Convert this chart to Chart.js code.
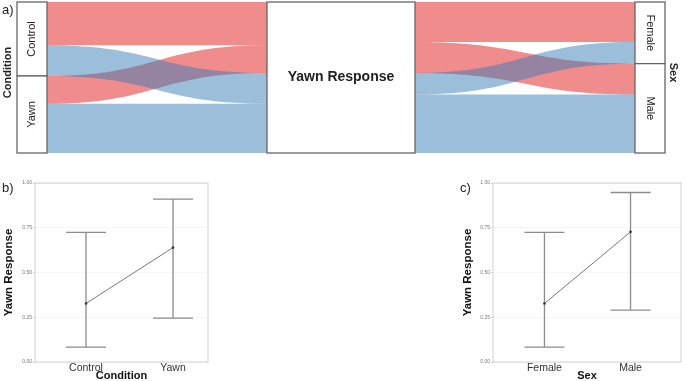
<!DOCTYPE html>
<html><head><meta charset="utf-8">
<script src="https://cdn.jsdelivr.net/npm/chart.js@4.4.0/dist/chart.umd.min.js"></script>
<style>
html,body{margin:0;padding:0;width:685px;height:381px;overflow:hidden;background:#fff;font-family:"Liberation Sans",Arial,sans-serif;}
.pane{position:absolute;}
.tag{position:absolute;font-size:13px;line-height:13px;color:#222;}
</style></head><body>
<div class="pane" style="left:0;top:0;width:685px;height:165px"><canvas id="top"></canvas></div>
<div class="pane" style="left:0;top:170px;width:215px;height:214px"><canvas id="cb"></canvas></div>
<div class="pane" style="left:455px;top:170px;width:230px;height:214px"><canvas id="cc"></canvas></div>
<div class="tag" style="left:2px;top:3px">a)</div>
<div class="tag" style="left:2px;top:181px">b)</div>
<div class="tag" style="left:460px;top:181px">c)</div>
<script>
// ---------- data ----------
const conditionCats = ['Control', 'Yawn'];
const responseCats = ['No', 'Yes'];        // red, blue
const sexCats = ['Female', 'Male'];
// counts: Condition x Yawn Response
const condNo  = [14, 9];
const condYes = [10, 16];
// counts: Yawn Response x Sex
const sexNo  = [13, 10];
const sexYes = [7, 19];
// estimated yawn response with intervals
const condMean  = [0.327, 0.639];
const condLower = [0.083, 0.245];
const condUpper = [0.724, 0.910];
const sexMean  = [0.327, 0.727];
const sexLower = [0.083, 0.290];
const sexUpper = [0.724, 0.947];
const yTicks = [0, 0.25, 0.5, 0.75, 1];

const FONT = '"Liberation Sans", Arial, sans-serif';
const RED = 'rgba(228,26,28,0.5)';
const BLUE = 'rgba(55,126,184,0.5)';
const sum = a => a.reduce((s, v) => s + v, 0);
const total = sum(condNo) + sum(condYes);

// ---------- alluvial ----------
const stages = [{x0: 17, x1: 47}, {x0: 267, x1: 415}, {x0: 635, x1: 665}];
const alluvialPlugin = {
  id: 'alluvial',
  afterDatasetsDraw(chart) {
    const ctx = chart.ctx, xs = chart.scales.x, ys = chart.scales.y;
    const X = v => xs.getPixelForValue(v), Y = v => ys.getPixelForValue(v);
    const resp = [condNo, condYes];
    const respS = [sexNo, sexYes];
    const condTot = conditionCats.map((_, i) => condNo[i] + condYes[i]);
    const respTot = [sum(condNo), sum(condYes)];
    const sexTot = sexCats.map((_, k) => sexNo[k] + sexYes[k]);
    const cum = (arr, n) => sum(arr.slice(0, n));
    function flow(xa, xb, a0, a1, b0, b1, color) {
      const pa0 = Y(a0), pa1 = Y(a1), pb0 = Y(b0), pb1 = Y(b1);
      const xm = (xa + xb) / 2;
      ctx.beginPath();
      ctx.moveTo(xa, pa0);
      ctx.bezierCurveTo(xm, pa0, xm, pb0, xb, pb0);
      ctx.lineTo(xb, pb1);
      ctx.bezierCurveTo(xm, pb1, xm, pa1, xa, pa1);
      ctx.closePath();
      ctx.fillStyle = color;
      ctx.fill();
    }
    ctx.save();
    [0, 1].forEach(j => {
      const color = j === 0 ? RED : BLUE;
      // left: condition -> response
      conditionCats.forEach((_, i) => {
        const v = resp[j][i];
        const s0 = cum(condTot, i) + cum(resp.map(r => r[i]), j);
        const t0 = cum(respTot, j) + cum(resp[j], i);
        flow(X(stages[0].x1), X(stages[1].x0), s0, s0 + v, t0, t0 + v, color);
      });
      // right: response -> sex
      sexCats.forEach((_, k) => {
        const v = respS[j][k];
        const s0 = cum(respTot, j) + cum(respS[j], k);
        const t0 = cum(sexTot, k) + cum(respS.map(r => r[k]), j);
        flow(X(stages[1].x1), X(stages[2].x0), s0, s0 + v, t0, t0 + v, color);
      });
    });
    // strata boxes
    ctx.lineWidth = 1.3;
    ctx.strokeStyle = '#666';
    function box(st, a, b) {
      const x0 = X(st.x0), x1 = X(st.x1), y0 = Y(a), y1 = Y(b);
      ctx.fillStyle = '#fff';
      ctx.fillRect(x0, y0, x1 - x0, y1 - y0);
      ctx.strokeRect(x0, y0, x1 - x0, y1 - y0);
    }
    function vtext(txt, x, y, rot, font) {
      ctx.save();
      ctx.translate(x, y);
      ctx.rotate(rot);
      ctx.font = font;
      ctx.fillStyle = '#222';
      ctx.textAlign = 'center';
      ctx.textBaseline = 'middle';
      ctx.fillText(txt, 0, 0);
      ctx.restore();
    }
    conditionCats.forEach((c, i) => {
      const a = cum(condTot, i), b = a + condTot[i];
      box(stages[0], a, b);
      vtext(c, (X(stages[0].x0) + X(stages[0].x1)) / 2, (Y(a) + Y(b)) / 2, -Math.PI / 2, '11px ' + FONT);
    });
    box(stages[1], 0, total);
    vtext('Yawn Response', (X(stages[1].x0) + X(stages[1].x1)) / 2, (Y(0) + Y(total)) / 2, 0, 'bold 14px ' + FONT);
    sexCats.forEach((c, k) => {
      const a = cum(sexTot, k), b = a + sexTot[k];
      box(stages[2], a, b);
      vtext(c, (X(stages[2].x0) + X(stages[2].x1)) / 2, (Y(a) + Y(b)) / 2, Math.PI / 2, '11px ' + FONT);
    });
    const midY = (Y(0) + Y(total)) / 2 - 5;
    vtext('Condition', 8, midY, -Math.PI / 2, 'bold 11px ' + FONT);
    vtext('Sex', 673, midY, Math.PI / 2, 'bold 11px ' + FONT);
    ctx.restore();
  }
};

new Chart(document.getElementById('top'), {
  type: 'scatter',
  data: {datasets: []},
  options: {
    responsive: true, maintainAspectRatio: false, animation: false,
    layout: {padding: {top: 2, bottom: 12, left: 0, right: 0}},
    plugins: {legend: {display: false}, tooltip: {enabled: false}},
    scales: {
      x: {type: 'linear', min: 0, max: 685, display: false},
      y: {type: 'linear', min: 0, max: total, reverse: true, display: false}
    }
  },
  plugins: [alluvialPlugin]
});

// ---------- error bar panels ----------
const errPlugin = {
  id: 'errbars',
  beforeDatasetsDraw(chart) {
    const ctx = chart.ctx, xs = chart.scales.x, ys = chart.scales.y, a = chart.chartArea;
    ctx.save();
    ctx.strokeStyle = '#d2d2d2';
    ctx.lineWidth = 1;
    ctx.strokeRect(a.left, a.top, a.right - a.left, a.bottom - a.top);
    const ds = chart.data.datasets[0];
    ctx.strokeStyle = '#8c8c8c';
    ctx.lineWidth = 1.3;
    ds.data.forEach((p, i) => {
      const x = xs.getPixelForValue(p.x);
      const yl = ys.getPixelForValue(ds.errLo[i]), yh = ys.getPixelForValue(ds.errHi[i]);
      const w = 20;
      ctx.beginPath();
      ctx.moveTo(x, yl); ctx.lineTo(x, yh);
      ctx.moveTo(x - w, yl); ctx.lineTo(x + w, yl);
      ctx.moveTo(x - w, yh); ctx.lineTo(x + w, yh);
      ctx.stroke();
    });
    ctx.restore();
  }
};

function errChart(id, cats, mean, lo, hi, xTitle, xmin, xmax, axisW, titlePad, padRight) {
  new Chart(document.getElementById(id), {
    type: 'line',
    data: {datasets: [{
      data: cats.map((c, i) => ({x: i + 1, y: mean[i]})),
      errLo: lo, errHi: hi,
      borderColor: '#555', borderWidth: 0.8,
      pointRadius: 1.3, pointBackgroundColor: '#333', pointBorderWidth: 0
    }]},
    options: {
      responsive: true, maintainAspectRatio: false, animation: false,
      layout: {padding: {top: 13, right: padRight, left: 0, bottom: 0}},
      plugins: {legend: {display: false}, tooltip: {enabled: false}},
      scales: {
        x: {
          type: 'linear', min: xmin, max: xmax,
          afterBuildTicks: s => { s.ticks = cats.map((c, i) => ({value: i + 1})); },
          ticks: {callback: v => cats[v - 1], font: {family: FONT, size: 10.5}, color: '#333', padding: 0, autoSkip: false, maxRotation: 0},
          grid: {display: false, drawTicks: false},
          border: {display: false},
          title: {display: true, text: xTitle, font: {family: FONT, size: 11, weight: 'bold'}, color: '#111', padding: {top: 0, bottom: 1}},
          afterFit: s => { s.height = 22; }
        },
        y: {
          min: 0, max: 1,
          afterBuildTicks: s => { s.ticks = yTicks.map(v => ({value: v})); },
          ticks: {callback: v => v.toFixed(2), font: {family: FONT, size: 5}, color: '#777', padding: 1},
          grid: {color: 'rgba(0,0,0,0.035)', tickLength: 2, tickColor: '#ccc'},
          border: {display: false},
          title: {display: true, text: 'Yawn Response', font: {family: FONT, size: 11.5, weight: 'bold'}, color: '#111', padding: {top: titlePad, bottom: 0}},
          afterFit: s => { s.width = axisW; }
        }
      }
    },
    plugins: [errPlugin]
  });
}

errChart('cb', conditionCats, condMean, condLower, condUpper, 'Condition', 1 - 51 / 87, 2 + 35 / 87, 35, 2, 7);
errChart('cc', sexCats, sexMean, sexLower, sexUpper, 'Sex', 1 - 52 / 87, 2 + 51 / 87, 38, 6, 2);
</script>
</body></html>
